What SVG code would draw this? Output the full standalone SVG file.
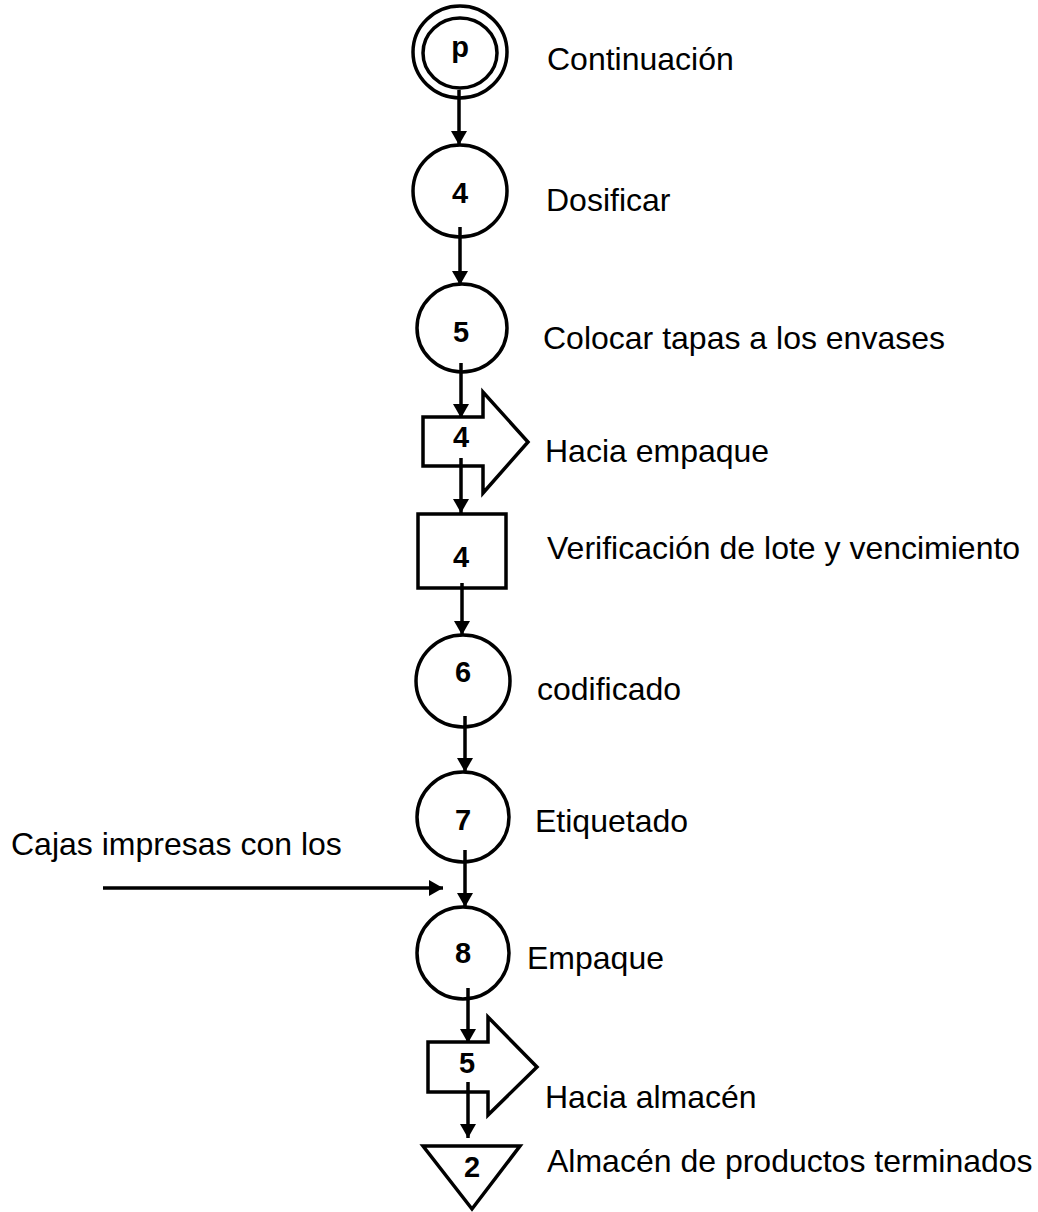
<svg xmlns="http://www.w3.org/2000/svg" width="1038" height="1212" viewBox="0 0 1038 1212">
<style>
.shape{fill:none;stroke:#000;stroke-width:3.5}
.num{font-family:"Liberation Sans",Arial,sans-serif;font-weight:bold;font-size:29px;text-anchor:middle;fill:#000}
.lbl{font-family:"Liberation Sans",Arial,sans-serif;font-size:32px;fill:#000}
.conn{stroke:#000;stroke-width:3.5;fill:none;marker-end:url(#ah)}
</style>
<defs>
<marker id="ah" markerUnits="userSpaceOnUse" markerWidth="16" markerHeight="16" refX="14" refY="8" orient="auto">
<path d="M0,0 L14,8 L0,16 Z" fill="#000"/>
</marker>
</defs>
<rect width="1038" height="1212" fill="#fff"/>
<g id="nodeP">
<ellipse class="shape" cx="460" cy="52" rx="47" ry="46"/>
<ellipse class="shape" cx="460" cy="53" rx="37" ry="35"/>
<text class="num" x="460" y="57">p</text>
<text class="lbl" x="547" y="70">Continuación</text>
</g>
<g id="op4">
<ellipse class="shape" cx="460" cy="191" rx="47" ry="46"/>
<text class="num" x="460" y="203">4</text>
<text class="lbl" x="546" y="211">Dosificar</text>
</g>
<g id="op5">
<ellipse class="shape" cx="462" cy="328" rx="45" ry="44"/>
<text class="num" x="461" y="342">5</text>
<text class="lbl" x="543" y="349">Colocar tapas a los envases</text>
</g>
<g id="tr4">
<polygon class="shape" points="423,417 483,417 483,392 528,442 483,493 483,466 423,466"/>
<text class="num" x="461" y="447">4</text>
<text class="lbl" x="545" y="462">Hacia empaque</text>
</g>
<g id="insp4">
<rect class="shape" x="418" y="514" width="88" height="74"/>
<text class="num" x="461" y="567">4</text>
<text class="lbl" x="547" y="559">Verificación de lote y vencimiento</text>
</g>
<g id="op6">
<ellipse class="shape" cx="463" cy="681" rx="47" ry="46"/>
<text class="num" x="463" y="682">6</text>
<text class="lbl" x="537" y="700">codificado</text>
</g>
<g id="op7">
<ellipse class="shape" cx="463" cy="817" rx="46" ry="45"/>
<text class="num" x="463" y="830">7</text>
<text class="lbl" x="535" y="832">Etiquetado</text>
</g>
<g id="input">
<text class="lbl" x="11" y="855">Cajas impresas con los</text>
</g>
<g id="op8">
<ellipse class="shape" cx="463" cy="953" rx="46" ry="46"/>
<text class="num" x="463" y="963">8</text>
<text class="lbl" x="527" y="969">Empaque</text>
</g>
<g id="tr5">
<polygon class="shape" points="428,1042 488,1042 488,1017 537,1067 488,1115 488,1092 428,1092"/>
<text class="num" x="467" y="1073">5</text>
<text class="lbl" x="545" y="1108">Hacia almacén</text>
</g>
<g id="store2">
<polygon class="shape" points="423,1146 520,1146 472,1209"/>
<text class="num" x="472" y="1177">2</text>
<text class="lbl" x="547" y="1172">Almacén de productos terminados</text>
</g>
<g id="connectors">
<line class="conn" x1="459" y1="90" x2="459" y2="145"/>
<line class="conn" x1="460" y1="227" x2="460" y2="285"/>
<line class="conn" x1="461" y1="363" x2="461" y2="418"/>
<line class="conn" x1="461" y1="458" x2="461" y2="513"/>
<line class="conn" x1="462" y1="583" x2="462" y2="635"/>
<line class="conn" x1="465" y1="716" x2="465" y2="772"/>
<line class="conn" x1="465" y1="850" x2="465" y2="907"/>
<line class="conn" x1="103" y1="888" x2="443" y2="888"/>
<line class="conn" x1="468" y1="988" x2="468" y2="1043"/>
<line class="conn" x1="468" y1="1082" x2="468" y2="1138"/>
</g>
</svg>
